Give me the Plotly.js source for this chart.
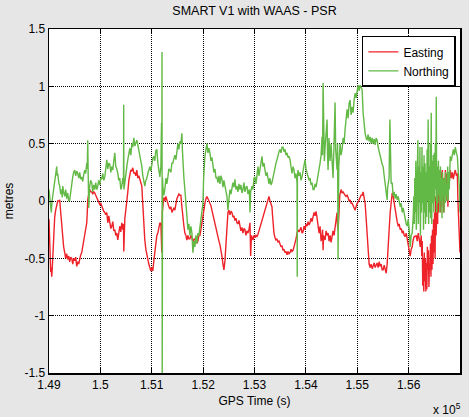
<!DOCTYPE html>
<html>
<head>
<meta charset="utf-8">
<script src="https://cdn.plot.ly/plotly-3.0.1.min.js"></script>
<style>html,body{margin:0;padding:0;background:#e6e6e6;}#chart{width:469px;height:417px;}</style>
</head>
<body>
<div id="chart"></div>
<script>
// GPS time (s) and Easting error (m)
var eastTime = [149000,149008,149014,149025,149033,149043,149053,149062,149072,149090,149111,149130,149150,149170,149190,149209,149228,149248,149267,149285,149306,149325,149345,149364,149384,149403,149422,149442,149462,149481,149501,149520,149540,149559,149578,149598,149617,149637,149657,149676,149696,149715,149735,149745,149754,149774,149793,149813,149832,149851,149871,149890,149910,149929,149949,149968,149988,150008,150027,150047,150066,150086,150105,150125,150144,150164,150183,150203,150222,150242,150261,150281,150300,150320,150339,150358,150378,150398,150417,150437,150450,150456,150462,150476,150495,150515,150534,150554,150573,150592,150612,150631,150651,150670,150690,150709,150729,150748,150768,150787,150807,150816,150826,150846,150865,150885,150904,150924,150943,150963,150982,151002,151021,151041,151060,151080,151099,151119,151138,151158,151178,151195,151205,151216,151235,151255,151275,151294,151314,151333,151353,151372,151392,151411,151431,151450,151470,151489,151509,151528,151548,151567,151587,151606,151626,151645,151665,151684,151704,151723,151743,151762,151782,151801,151821,151840,151860,151879,151899,151918,151937,151957,151976,151996,152015,152035,152055,152074,152094,152113,152132,152152,152171,152191,152210,152230,152250,152269,152288,152308,152327,152347,152366,152386,152405,152425,152444,152464,152483,152503,152522,152542,152561,152580,152600,152619,152639,152658,152678,152697,152717,152736,152756,152775,152795,152814,152834,152853,152873,152892,152912,152925,152940,152970,152990,153009,153029,153048,153068,153087,153107,153126,153146,153165,153185,153204,153224,153243,153263,153282,153301,153321,153340,153350,153360,153379,153399,153418,153438,153457,153477,153496,153516,153535,153555,153574,153594,153613,153633,153652,153672,153691,153711,153730,153750,153769,153789,153808,153828,153847,153866,153886,153906,153925,153945,153964,153984,154003,154023,154042,154062,154081,154101,154120,154140,154159,154179,154198,154218,154237,154257,154276,154296,154315,154325,154335,154345,154374,154393,154413,154432,154452,154471,154490,154510,154529,154548,154568,154588,154607,154617,154627,154645,154660,154685,154705,154724,154744,154763,154783,154802,154822,154841,154861,154880,154900,154919,154939,154958,154978,154997,155017,155036,155056,155075,155095,155114,155134,155153,155173,155192,155212,155231,155251,155270,155290,155309,155329,155348,155368,155387,155407,155426,155446,155465,155485,155504,155524,155543,155563,155582,155602,155621,155641,155660,155680,155699,155718,155738,155757,155777,155797,155816,155836,155855,155875,155894,155914,155933,155953,155972,155992,156011,156031,156050,156070,156089,156108,156128,156148,156167,156187,156206,156226,156246,156255,156265,156275,156285,156295,156305,156315,156325,156335,156345,156355,156365,156375,156385,156395,156405,156415,156425,156435,156445,156455,156465,156475,156485,156495,156505,156515,156525,156535,156545,156555,156565,156575,156585,156595,156605,156615,156625,156635,156645,156655,156665,156675,156685,156695,156705,156715,156725,156735,156745,156755,156765,156775,156790,156811,156830,156850,156870,156890,156909,156930,156948,156960,156970,156985,157000];
var eastVal = [-0.16,-0.3,-0.45,-0.55,-0.62,-0.58,-0.66,-0.6,-0.5,-0.3,-0.14,-0.08,-0.02,0.0,0.0,0.01,-0.1,-0.2,-0.36,-0.4,-0.45,-0.5,-0.46,-0.51,-0.48,-0.53,-0.49,-0.5,-0.55,-0.5,-0.52,-0.49,-0.57,-0.53,-0.55,-0.5,-0.47,-0.45,-0.4,-0.35,-0.3,-0.25,-0.19,-0.1,0.01,0.06,0.1,0.08,0.08,0.06,0.08,0.07,0.04,0.03,0.01,-0.01,-0.03,-0.02,-0.05,-0.06,-0.09,-0.1,-0.12,-0.1,-0.19,-0.13,-0.17,-0.24,-0.22,-0.18,-0.26,-0.25,-0.3,-0.28,-0.34,-0.25,-0.22,-0.27,-0.19,-0.25,-0.2,-0.44,-0.2,-0.15,-0.08,-0.02,0.08,0.18,0.24,0.27,0.26,0.29,0.24,0.25,0.22,0.27,0.2,0.22,0.19,0.16,0.13,0.05,-0.05,-0.2,-0.34,-0.42,-0.47,-0.51,-0.55,-0.58,-0.61,-0.58,-0.61,-0.52,-0.43,-0.36,-0.3,-0.28,-0.22,-0.19,-0.2,-0.45,-0.1,-0.02,0.03,0.0,0.04,0.01,-0.03,-0.05,-0.07,-0.05,-0.1,-0.08,-0.06,-0.08,-0.02,0.02,0.04,0.06,0.05,0.05,-0.05,-0.16,-0.22,-0.28,-0.3,-0.34,-0.3,-0.33,-0.33,-0.3,-0.32,-0.36,-0.33,-0.34,-0.31,-0.37,-0.35,-0.3,-0.3,-0.25,-0.19,-0.12,-0.06,-0.02,0.02,0.04,0.02,0.0,-0.01,-0.04,-0.08,-0.12,-0.17,-0.22,-0.26,-0.28,-0.31,-0.35,-0.38,-0.42,-0.48,-0.55,-0.6,-0.52,-0.4,-0.25,-0.1,-0.08,-0.12,-0.09,-0.1,-0.14,-0.13,-0.17,-0.15,-0.19,-0.2,-0.17,-0.22,-0.26,-0.23,-0.28,-0.24,-0.25,-0.3,-0.26,-0.28,-0.25,-0.19,-0.48,-0.3,-0.34,-0.3,-0.32,-0.3,-0.31,-0.29,-0.26,-0.22,-0.2,-0.16,-0.14,-0.12,-0.08,-0.04,-0.01,0.02,0.04,0.0,-0.03,-0.05,-0.12,-0.22,-0.28,-0.32,-0.34,-0.33,-0.36,-0.35,-0.37,-0.4,-0.39,-0.43,-0.42,-0.45,-0.44,-0.47,-0.44,-0.46,-0.45,-0.42,-0.44,-0.43,-0.4,-0.37,-0.33,-0.28,-0.25,-0.27,-0.25,-0.23,-0.28,-0.27,-0.22,-0.25,-0.2,-0.22,-0.18,-0.21,-0.19,-0.15,-0.18,-0.14,-0.1,-0.13,-0.09,-0.15,-0.25,-0.28,-0.22,-0.35,-0.31,-0.25,-0.43,-0.3,-0.34,-0.26,-0.3,-0.28,-0.35,-0.3,-0.36,-0.31,-0.26,-0.3,-0.22,-0.15,-0.1,-0.22,-0.25,-0.1,0.05,0.1,0.07,0.08,0.06,0.05,0.04,0.05,0.03,0.0,0.01,-0.02,-0.02,-0.05,-0.06,-0.08,-0.04,-0.02,-0.01,0.02,0.03,0.05,0.05,0.08,0.03,-0.02,-0.15,-0.28,-0.51,-0.55,-0.58,-0.55,-0.59,-0.57,-0.54,-0.58,-0.55,-0.54,-0.58,-0.53,-0.57,-0.55,-0.6,-0.6,-0.56,-0.6,-0.63,-0.55,-0.43,-0.25,-0.1,0.02,0.07,0.04,-0.02,-0.08,-0.15,-0.18,-0.22,-0.2,-0.25,-0.24,-0.28,-0.26,-0.3,-0.31,-0.28,-0.33,-0.37,-0.42,-0.48,-0.42,-0.4,-0.34,-0.31,-0.31,-0.3,-0.35,-0.28,-0.33,-0.4,-0.3,-0.48,-0.35,-0.74,-0.5,-0.79,-0.45,-0.7,-0.5,-0.79,-0.54,-0.77,-0.4,-0.6,-0.43,-0.75,-0.55,-0.6,-0.37,-0.66,-0.3,-0.6,-0.25,-0.55,-0.16,-0.45,-0.1,-0.5,0.04,-0.3,-0.16,0.1,-0.2,0.27,-0.1,0.2,-0.02,0.24,-0.1,0.25,-0.05,0.27,0.0,0.2,-0.1,0.19,0.05,0.27,0.1,0.24,0.0,0.2,-0.05,0.25,0.15,0.27,0.2,0.25,0.19,0.24,0.27,0.22,0.24,0.0,-0.1,-0.3,-0.45];

// GPS time (s) and Northing error (m)
var northTime = [149000,149020,149045,149060,149072,149090,149111,149130,149150,149160,149170,149190,149209,149228,149248,149258,149267,149285,149306,149325,149345,149364,149384,149403,149420,149442,149452,149462,149480,149501,149520,149540,149559,149580,149598,149617,149637,149657,149676,149696,149715,149735,149745,149754,149764,149774,149790,149810,149832,149850,149870,149890,149910,149930,149949,149968,149988,150008,150027,150047,150066,150086,150105,150125,150144,150164,150183,150203,150222,150242,150261,150281,150300,150320,150339,150358,150378,150398,150417,150437,150450,150454,150458,150476,150495,150515,150534,150554,150573,150592,150612,150631,150651,150670,150690,150709,150729,150748,150768,150787,150807,150826,150846,150865,150885,150904,150924,150943,150963,150982,151002,151021,151041,151060,151080,151099,151119,151138,151158,151178,151190,151196,151200,151204,151210,151216,151235,151255,151275,151294,151314,151333,151353,151372,151392,151411,151431,151450,151470,151489,151509,151528,151548,151567,151587,151596,151606,151626,151645,151665,151684,151704,151723,151743,151762,151782,151801,151821,151840,151860,151879,151899,151918,151937,151957,151976,151996,152010,152020,152035,152055,152074,152094,152113,152132,152152,152171,152191,152210,152230,152250,152269,152288,152308,152327,152347,152366,152386,152405,152425,152444,152464,152483,152503,152522,152542,152561,152580,152600,152619,152639,152658,152678,152697,152717,152736,152756,152775,152795,152814,152834,152853,152873,152900,152912,152925,152951,152970,152990,153009,153029,153048,153068,153087,153107,153126,153146,153165,153185,153204,153224,153243,153263,153282,153301,153321,153340,153360,153379,153399,153418,153438,153457,153477,153496,153516,153535,153555,153574,153594,153613,153633,153652,153672,153691,153711,153730,153750,153769,153789,153808,153828,153832,153836,153847,153866,153886,153906,153925,153945,153964,153984,154003,154023,154042,154062,154081,154101,154120,154140,154159,154179,154198,154218,154237,154257,154276,154296,154315,154325,154335,154345,154360,154374,154393,154413,154422,154432,154450,154470,154490,154510,154529,154548,154568,154580,154595,154607,154617,154627,154640,154655,154666,154685,154705,154725,154744,154763,154783,154802,154822,154841,154861,154880,154900,154919,154939,154958,154978,154997,155017,155036,155056,155075,155095,155114,155134,155153,155173,155192,155212,155231,155251,155270,155290,155309,155329,155348,155368,155387,155407,155426,155446,155465,155485,155504,155524,155543,155563,155582,155592,155602,155620,155635,155645,155660,155680,155699,155718,155738,155757,155777,155797,155816,155836,155855,155875,155894,155914,155933,155953,155972,155992,156011,156031,156050,156070,156089,156100,156110,156120,156130,156140,156150,156160,156170,156180,156190,156200,156210,156220,156230,156240,156250,156260,156270,156280,156290,156300,156310,156320,156330,156340,156350,156360,156370,156380,156390,156400,156410,156420,156430,156440,156450,156460,156470,156480,156490,156500,156510,156520,156530,156538,156548,156558,156568,156580,156590,156600,156610,156620,156630,156640,156650,156660,156670,156680,156690,156700,156710,156720,156730,156740,156750,156760,156770,156780,156790,156800,156811,156830,156850,156870,156890,156909,156930,156948,156960,156975,156990,157000];
var northVal = [0.1,0.02,-0.1,0.0,0.04,0.12,0.2,0.26,0.3,0.22,0.24,0.16,0.13,0.06,0.1,0.03,0.13,0.08,0.04,0.1,0.02,0.07,0.0,0.01,0.08,0.13,0.18,0.21,0.25,0.27,0.22,0.26,0.24,0.2,0.25,0.19,0.21,0.17,0.23,0.27,0.24,0.33,0.28,0.53,0.2,-0.06,0.12,0.18,0.16,0.08,0.14,0.1,0.16,0.1,0.13,0.18,0.14,0.2,0.19,0.24,0.18,0.21,0.28,0.36,0.28,0.33,0.32,0.25,0.3,0.27,0.35,0.42,0.3,0.28,0.24,0.18,0.2,0.1,0.13,0.2,0.15,0.84,0.1,0.16,0.26,0.3,0.36,0.42,0.46,0.4,0.5,0.47,0.55,0.48,0.52,0.53,0.49,0.44,0.42,0.35,0.3,0.22,0.17,0.13,0.18,0.2,0.24,0.28,0.3,0.26,0.33,0.37,0.39,0.35,0.44,0.45,0.33,0.26,0.21,0.3,0.68,0.3,1.3,-1.5,0.2,0.13,0.05,0.1,0.2,0.15,0.21,0.28,0.27,0.25,0.33,0.33,0.37,0.4,0.36,0.45,0.5,0.45,0.52,0.5,0.59,0.45,0.33,0.2,0.1,-0.02,-0.14,-0.25,-0.2,-0.3,-0.22,-0.28,-0.45,-0.35,-0.4,-0.3,-0.37,-0.28,-0.3,-0.22,-0.15,-0.1,-0.02,0.2,0.3,0.39,0.45,0.5,0.42,0.46,0.42,0.35,0.38,0.33,0.25,0.28,0.2,0.21,0.16,0.22,0.15,0.22,0.19,0.12,0.18,0.13,0.08,0.04,-0.08,0.05,0.1,0.06,0.1,0.16,0.12,0.19,0.1,0.13,0.08,0.15,0.1,0.14,0.07,0.1,0.16,0.08,0.12,0.13,0.06,0.1,-0.1,0.08,0.13,0.1,0.2,0.21,0.15,0.24,0.3,0.22,0.28,0.33,0.39,0.3,0.33,0.27,0.22,0.25,0.21,0.15,0.2,0.14,0.16,0.21,0.25,0.3,0.33,0.36,0.4,0.43,0.45,0.42,0.47,0.47,0.43,0.45,0.4,0.42,0.38,0.39,0.36,0.3,0.24,0.3,0.27,0.2,0.24,0.16,-0.66,0.2,0.27,0.22,0.25,0.18,0.21,0.27,0.3,0.36,0.28,0.25,0.21,0.18,0.2,0.14,0.16,0.1,0.1,0.15,0.12,0.19,0.25,0.28,0.33,0.4,0.56,0.4,1.03,0.5,0.35,0.47,0.6,0.71,0.4,0.27,0.55,0.35,0.5,0.3,0.2,0.5,0.86,0.45,0.3,0.27,0.5,-0.51,0.3,0.45,0.5,0.4,0.45,0.55,0.5,0.62,0.7,0.8,0.72,0.85,0.88,0.75,0.82,0.77,0.88,0.94,0.9,0.98,1.01,0.96,1.01,0.99,0.97,0.77,0.65,0.59,0.55,0.53,0.58,0.52,0.56,0.5,0.55,0.5,0.54,0.49,0.55,0.53,0.47,0.44,0.39,0.36,0.32,0.3,0.22,0.16,0.1,0.01,0.12,0.16,0.2,0.71,0.3,0.15,0.16,0.04,0.08,0.02,0.06,0.01,0.04,-0.02,-0.05,-0.02,-0.1,-0.06,-0.12,-0.14,-0.2,-0.22,-0.16,-0.25,-0.4,-0.3,-0.28,-0.14,0.04,-0.2,0.2,-0.1,0.35,-0.25,0.19,0.05,0.53,-0.2,0.3,0.0,0.47,-0.3,0.25,-0.1,0.47,-0.02,0.3,-0.25,0.4,-0.1,0.33,-0.2,0.25,-0.14,0.45,0.0,0.71,-0.2,0.3,-0.1,0.5,-0.15,0.77,-0.2,0.35,-0.02,0.4,-0.1,0.42,0.0,0.5,0.1,0.91,-0.1,0.3,-0.02,0.35,0.05,0.27,-0.1,0.3,0.0,0.2,-0.15,0.25,0.05,0.19,-0.1,0.2,-0.02,0.25,0.05,0.15,0.0,0.3,0.01,0.25,0.1,0.3,0.39,0.35,0.42,0.45,0.4,0.47,0.42,0.39,0.3,0.19,0.1,-0.1];

var xTickVals = [149000,150000,151000,152000,153000,154000,155000,156000,157000];
var xTickText = ['1.49','1.5','1.51','1.52','1.53','1.54','1.55','1.56','1.57'];
var yTickVals = [-1.5,-1,-0.5,0,0.5,1,1.5];
var yTickText = ['-1.5','-1','-0.5','0','0.5','1','1.5'];

var font = {family: 'Liberation Sans, Arial, sans-serif', size: 12, color: '#000'};

var traces = [
  {x: eastTime, y: eastVal, type: 'scatter', mode: 'lines', name: 'Easting',
   line: {color: '#ee2229', width: 1.4}},
  {x: northTime, y: northVal, type: 'scatter', mode: 'lines', name: 'Northing',
   line: {color: '#63b946', width: 1.4}}
];

var axisCommon = {
  showline: true, linecolor: '#000', linewidth: 1.5, mirror: 'ticks',
  ticks: 'inside', ticklen: 5, tickcolor: '#000', tickwidth: 1,
  showgrid: true, gridcolor: '#000', griddash: '1px,1px', gridwidth: 1,
  zeroline: false, tickfont: font, automargin: false
};

var layout = {
  width: 469, height: 417,
  paper_bgcolor: '#e6e6e6', plot_bgcolor: '#ffffff',
  margin: {l: 49, r: 9, t: 29, b: 44},
  font: font,
  title: {text: 'SMART V1 with WAAS - PSR', font: {family: font.family, size: 12.5, color: '#000'},
          x: 0.5, xref: 'paper', xanchor: 'center', y: 1, yref: 'container', yanchor: 'top', pad: {t: 6}},
  xaxis: Object.assign({}, axisCommon, {
    range: [149000, 157000], tickvals: xTickVals, ticktext: xTickText,
    title: {text: 'GPS Time (s)', font: font, standoff: 5}
  }),
  yaxis: Object.assign({}, axisCommon, {
    range: [-1.5, 1.5], tickvals: yTickVals, ticktext: yTickText,
    title: {text: 'metres', font: font, standoff: 8}
  }),
  showlegend: true,
  legend: {x: 0.99, xanchor: 'right', y: 0.98, yanchor: 'top', xref: 'paper', yref: 'paper',
           bgcolor: '#ffffff', bordercolor: '#000', borderwidth: 1.5, font: font,
           tracegroupgap: 0},
  annotations: [{
    text: 'x 10<sup>5</sup>', xref: 'paper', yref: 'paper', x: 1.007, y: -0.105,
    xanchor: 'right', yanchor: 'middle', showarrow: false, font: font
  }]
};

Plotly.newPlot('chart', traces, layout, {displayModeBar: false, staticPlot: true});
</script>
</body>
</html>
